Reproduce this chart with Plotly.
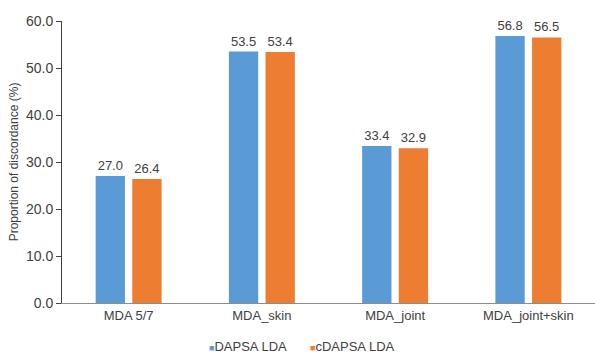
import plotly.graph_objects as go

categories = ["MDA 5/7", "MDA_skin", "MDA_joint", "MDA_joint+skin"]
dapsa_lda = [27.0, 53.5, 33.4, 56.8]
cdapsa_lda = [26.4, 53.4, 32.9, 56.5]
y_ticks = [0, 10, 20, 30, 40, 50, 60]

FONT = "Liberation Sans, Arial, sans-serif"
TXT = "#404040"
series = [("DAPSA LDA", dapsa_lda, "#5B9BD5"),
          ("cDAPSA LDA", cdapsa_lda, "#ED7D31")]

fig = go.Figure()
for name, vals, color in series:
    fig.add_trace(go.Bar(
        x=categories, y=vals, name=name,
        marker=dict(color=color, line=dict(width=0)),
        text=[f"{v:.1f}" for v in vals], textposition="outside",
        textfont=dict(family=FONT, size=13, color=TXT),
        cliponaxis=False, showlegend=False,
    ))

# compact legend with small square keys beneath the axis
legend_x = [0.272, 0.462]
for (name, _, color), lx in zip(series, legend_x):
    fig.add_annotation(
        xref="paper", yref="paper", x=lx, y=-0.156,
        xanchor="left", yanchor="middle", showarrow=False,
        text=f"<span style='color:{color};font-size:9px'>■</span>{name}",
        font=dict(family=FONT, size=13, color=TXT),
    )

fig.update_layout(
    width=595, height=355,
    margin=dict(l=62, r=0, t=21, b=52),
    paper_bgcolor="white", plot_bgcolor="white",
    barmode="group", bargap=0.45, bargroupgap=0.2,
    font=dict(family=FONT, size=13, color=TXT),
    xaxis=dict(showline=True, linecolor="#8c8c8c", linewidth=1, ticks="",
               tickfont=dict(family=FONT, size=13, color=TXT),
               showgrid=False),
    yaxis=dict(range=[0, 60], tickvals=y_ticks,
               ticktext=[f"{v:.1f}" for v in y_ticks],
               showline=True, linecolor=TXT, linewidth=1,
               ticks="outside", ticklen=5, tickcolor=TXT,
               showgrid=False, zeroline=False,
               tickfont=dict(family=FONT, size=14, color=TXT),
               title=dict(text="Proportion of discordance (%)",
                          font=dict(family=FONT, size=12, color=TXT),
                          standoff=4)),
)

fig.write_html("out.html")
